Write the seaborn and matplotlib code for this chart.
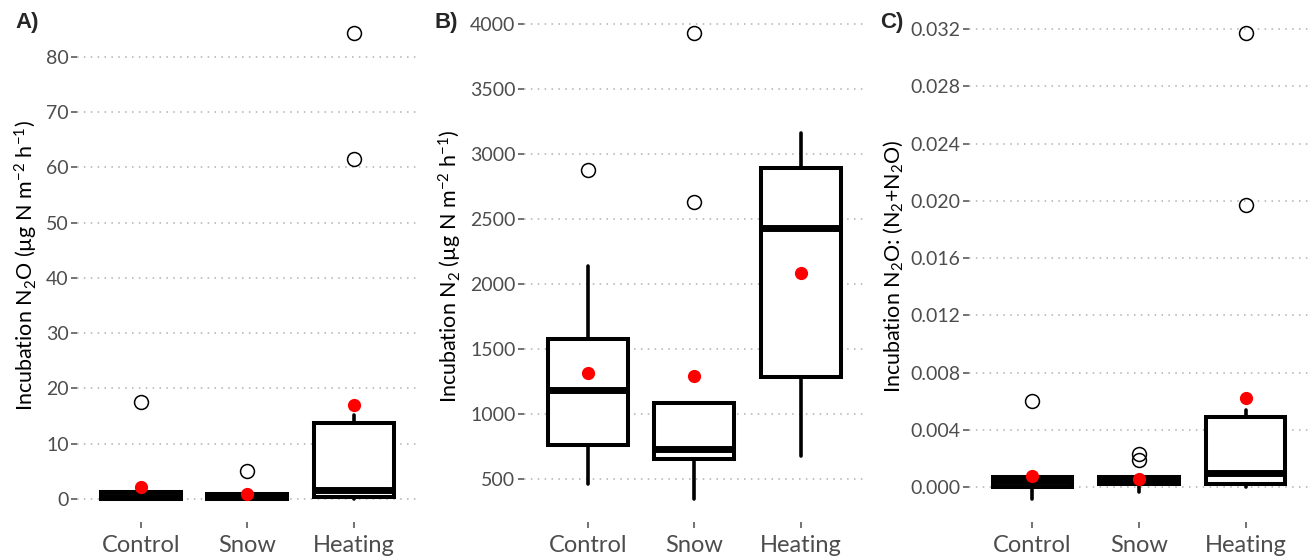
import numpy as np
import matplotlib
matplotlib.use("Agg")
import matplotlib.pyplot as plt
import seaborn as sns

categories = ["Control", "Snow", "Heating"]

# Panel A: N2O flux
a_q1 = [0.0, 0.0, 0.3]
a_med = [0.4, 0.3, 1.6]
a_q3 = [1.2, 0.8, 13.7]
a_lo = [0.0, 0.0, 0.0]
a_hi = [1.2, 0.8, 15.2]
a_out = [[17.6], [5.0], [61.5, 84.3]]
a_mean = [2.2, 0.8, 16.9]

# Panel B: N2 flux
b_q1 = [760, 655, 1285]
b_med = [1185, 730, 2430]
b_q3 = [1575, 1080, 2890]
b_lo = [460, 345, 675]
b_hi = [2135, 1080, 3165]
b_out = [[2875], [2630, 3930], []]
b_mean = [1315, 1290, 2085]

# Panel C: N2O ratio
c_q1 = [0.0000, 0.0002, 0.0002]
c_med = [0.0004, 0.0004, 0.0010]
c_q3 = [0.0007, 0.0007, 0.0049]
c_lo = [-0.0008, -0.0003, 0.0000]
c_hi = [0.0007, 0.0007, 0.0054]
c_out = [[0.0060], [0.0019, 0.0023], [0.0197, 0.0317]]
c_mean = [0.0008, 0.0006, 0.0062]

a_ticks = [0, 10, 20, 30, 40, 50, 60, 70, 80]
b_ticks = [500, 1000, 1500, 2000, 2500, 3000, 3500, 4000]
c_ticks = [0.000, 0.004, 0.008, 0.012, 0.016, 0.020, 0.024, 0.028, 0.032]

sns.set_theme(style="white")
plt.rcParams["font.family"] = ["Lato", "DejaVu Sans"]
plt.rcParams["mathtext.fontset"] = "custom"
plt.rcParams["mathtext.rm"] = "Lato"
plt.rcParams["mathtext.it"] = "Lato:italic"
plt.rcParams["mathtext.bf"] = "Lato:bold"

fig = plt.figure(figsize=(13.16, 5.58), dpi=100)

panels = [
    dict(left=0.0585, q1=a_q1, med=a_med, q3=a_q3, lo=a_lo, hi=a_hi, out=a_out, mean=a_mean,
         ticks=a_ticks, ylim=(-4.2, 88.5), fmt="{:g}", label="A)", lx=0.0114,
         ylabel="Incubation N$_2$O (µg N m$^{-2}$ h$^{-1}$)"),
    dict(left=0.398, q1=b_q1, med=b_med, q3=b_q3, lo=b_lo, hi=b_hi, out=b_out, mean=b_mean,
         ticks=b_ticks, ylim=(166, 4109), fmt="{:g}", label="B)", lx=0.3305,
         ylabel="Incubation N$_2$ (µg N m$^{-2}$ h$^{-1}$)"),
    dict(left=0.736, q1=c_q1, med=c_med, q3=c_q3, lo=c_lo, hi=c_hi, out=c_out, mean=c_mean,
         ticks=c_ticks, ylim=(-0.00243, 0.03333), fmt="{:.3f}", label="C)", lx=0.669,
         ylabel="Incubation N$_2$O: (N$_2$+N$_2$O)"),
]

for p in panels:
    ax = fig.add_axes([p["left"], 0.0645, 0.259, 0.9175])
    stats = []
    for i, c in enumerate(categories):
        stats.append(dict(label=c, q1=p["q1"][i], med=p["med"][i], q3=p["q3"][i],
                          whislo=p["lo"][i], whishi=p["hi"][i], fliers=p["out"][i]))
    ax.bxp(stats, positions=[0, 1, 2], widths=0.75, showcaps=False, patch_artist=True,
           boxprops=dict(facecolor="white", edgecolor="black", linewidth=2.9),
           whiskerprops=dict(color="black", linewidth=2.6),
           medianprops=dict(color="black", linewidth=5.0, solid_capstyle="butt"),
           flierprops=dict(marker="o", markerfacecolor="none", markeredgecolor="black",
                           markersize=10, markeredgewidth=1.1))
    sns.stripplot(x=categories, y=p["mean"], ax=ax, color="red", jitter=False,
                  size=9.5, linewidth=0, zorder=5)
    ax.set_xlim(-0.6, 2.6)
    ax.set_ylim(*p["ylim"])
    ax.set_yticks(p["ticks"])
    ax.set_yticklabels([p["fmt"].format(t) for t in p["ticks"]])
    ax.set_xticks([0, 1, 2])
    ax.set_xticklabels(categories)
    ax.yaxis.grid(True, linestyle=(0, (1, 3.5)), color="#b0b0b0", linewidth=1.1)
    ax.xaxis.grid(False)
    ax.set_axisbelow(True)
    sns.despine(ax=ax, left=True, bottom=True)
    ax.tick_params(axis="y", labelsize=14, colors="#4d4d4d", length=4, width=1.1,
                   left=True, pad=2)
    ax.tick_params(axis="x", labelsize=17, colors="#4d4d4d", length=4, width=1.1,
                   bottom=True, pad=5)
    ax.set_ylabel(p["ylabel"], fontsize=15.5, color="black", labelpad=4)
    ax.set_xlabel("")
    fig.text(p["lx"], 0.959, p["label"], fontsize=16, fontweight="bold",
             family=["Liberation Sans", "DejaVu Sans"], ha="left", va="center")

fig.savefig("out.png", dpi=100)
